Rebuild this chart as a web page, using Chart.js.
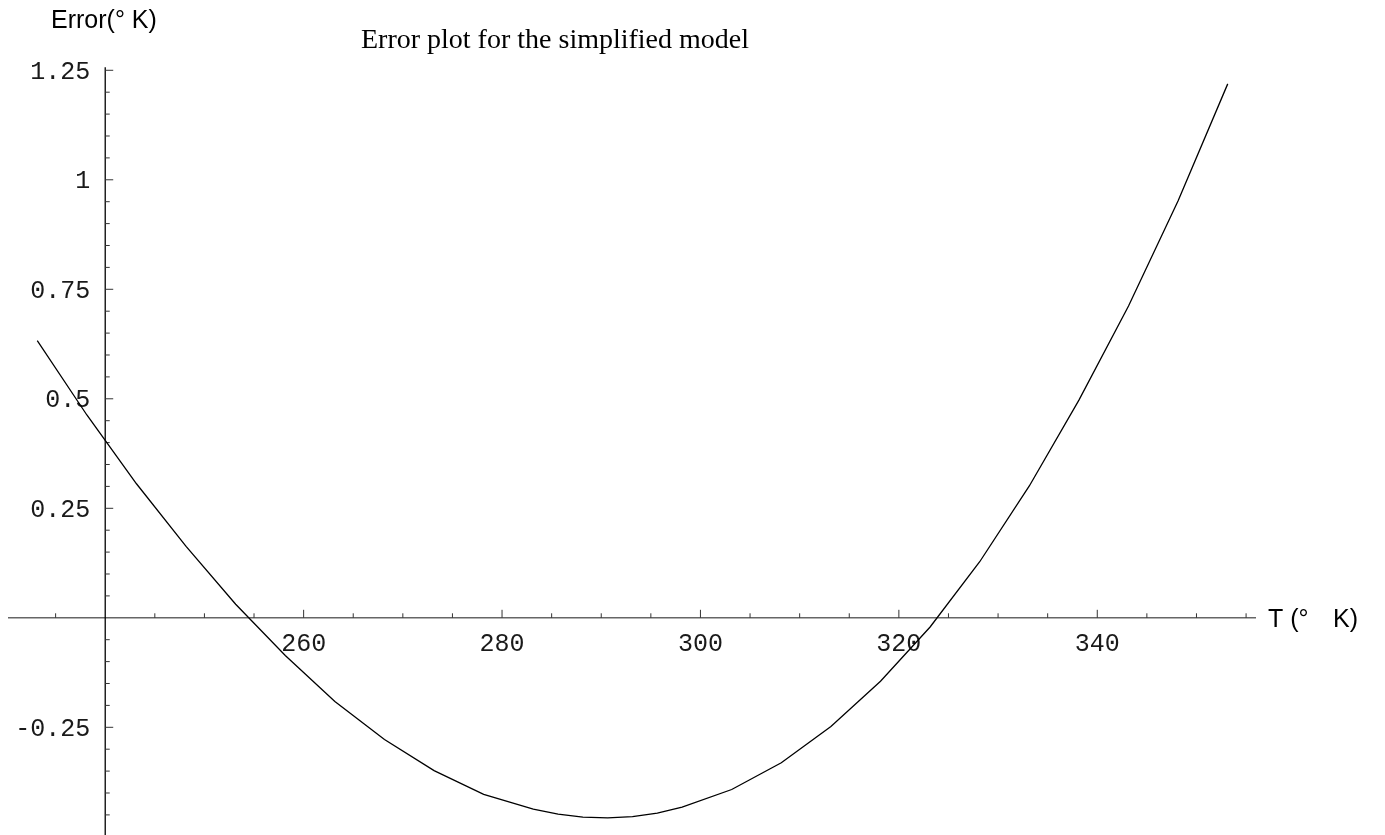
<!DOCTYPE html>
<html>
<head>
<meta charset="utf-8">
<script src="https://cdn.jsdelivr.net/npm/chart.js@4.4.1/dist/chart.umd.min.js"></script>
<style>
  html, body { margin: 0; padding: 0; background: #ffffff; }
  #wrap { width: 1385px; height: 835px; }
</style>
</head>
<body>
<div id="wrap"><canvas id="c" width="1385" height="835"></canvas></div>
<script>
// ---- data ----
const temperatures = [233.15, 238.15, 243.15, 248.15, 253.15, 258.15, 263.15, 268.15, 273.15, 278.15,
                      283.15, 285.65, 288.15, 290.65, 293.15, 295.65, 298.15, 303.15, 308.15, 313.15,
                      318.15, 323.15, 328.15, 333.15, 338.15, 343.15, 348.15, 353.15];
const errors = [0.633, 0.463, 0.306, 0.163, 0.031, -0.086, -0.191, -0.278, -0.349, -0.403,
                -0.437, -0.448, -0.455, -0.457, -0.454, -0.446, -0.432, -0.392, -0.331, -0.248,
                -0.145, -0.021, 0.128, 0.301, 0.497, 0.712, 0.952, 1.219];
const xMajorTicks = [260, 280, 300, 320, 340];
const xTickLabels = ['260', '280', '300', '320', '340'];
const xMinorTicks = [235, 245, 250, 255, 265, 270, 275, 285, 290, 295, 305, 310, 315, 325, 330, 335, 345, 350, 355];
const yMajorTicks = [-0.25, 0.25, 0.5, 0.75, 1, 1.25];
const yTickLabels = ['-0.25', '0.25', '0.5', '0.75', '1', '1.25'];
const yMinorTicks = [-0.45, -0.4, -0.35, -0.3, -0.2, -0.15, -0.1, -0.05, 0.05, 0.1, 0.15, 0.2,
                     0.3, 0.35, 0.4, 0.45, 0.55, 0.6, 0.65, 0.7, 0.8, 0.85, 0.9, 0.95,
                     1.05, 1.1, 1.15, 1.2];
const titleText = 'Error plot for the simplified model';
const yAxisTitle = 'Error(° K)';
const xAxisTitleParts = ['T (°', 'K)'];
const yAxisAt = 240;   // T where vertical axis crosses
const xAxisAt = 0;     // error where horizontal axis crosses

const points = temperatures.map((t, i) => ({ x: t, y: errors[i] }));

const axesPlugin = {
  id: 'mathAxes',
  beforeDatasetsDraw(chart) {
    const ctx = chart.ctx;
    const xs = chart.scales.x, ys = chart.scales.y;
    const area = chart.chartArea;
    const x0 = xs.getPixelForValue(yAxisAt);
    const y0 = ys.getPixelForValue(xAxisAt);
    ctx.save();
    // horizontal axis
    ctx.strokeStyle = '#666666';
    ctx.lineWidth = 1.6;
    ctx.beginPath();
    ctx.moveTo(area.left, y0);
    ctx.lineTo(area.right, y0);
    ctx.stroke();
    // vertical axis
    ctx.strokeStyle = '#000000';
    ctx.lineWidth = 1.3;
    ctx.beginPath();
    ctx.moveTo(x0, area.top - 2);
    ctx.lineTo(x0, chart.height);
    ctx.stroke();
    // x ticks
    ctx.strokeStyle = '#333333';
    ctx.lineWidth = 1;
    xMajorTicks.forEach(v => {
      const px = xs.getPixelForValue(v);
      ctx.beginPath(); ctx.moveTo(px, y0); ctx.lineTo(px, y0 - 8); ctx.stroke();
    });
    xMinorTicks.forEach(v => {
      const px = xs.getPixelForValue(v);
      ctx.beginPath(); ctx.moveTo(px, y0); ctx.lineTo(px, y0 - 4.5); ctx.stroke();
    });
    // y ticks
    yMajorTicks.forEach(v => {
      const py = ys.getPixelForValue(v);
      ctx.beginPath(); ctx.moveTo(x0, py); ctx.lineTo(x0 + 8, py); ctx.stroke();
    });
    yMinorTicks.forEach(v => {
      const py = ys.getPixelForValue(v);
      ctx.beginPath(); ctx.moveTo(x0, py); ctx.lineTo(x0 + 4.5, py); ctx.stroke();
    });
    // tick labels
    ctx.fillStyle = '#1a1a1a';
    ctx.font = '25px "Liberation Mono", "DejaVu Sans Mono", monospace';
    ctx.textBaseline = 'alphabetic';
    ctx.textAlign = 'center';
    xMajorTicks.forEach((v, i) => {
      ctx.fillText(xTickLabels[i], xs.getPixelForValue(v), y0 + 33);
    });
    ctx.textAlign = 'right';
    yMajorTicks.forEach((v, i) => {
      ctx.fillText(yTickLabels[i], x0 - 15, ys.getPixelForValue(v) + 8.5);
    });
    // axis titles
    ctx.fillStyle = '#000000';
    ctx.font = '25px "Liberation Sans", Arial, sans-serif';
    ctx.textAlign = 'left';
    ctx.fillText(yAxisTitle, 51, 28);
    ctx.fillText(xAxisTitleParts[0], 1268, y0 + 9);
    ctx.fillText(xAxisTitleParts[1], 1333, y0 + 9);
    // plot title
    ctx.font = '28px "Liberation Serif", "Times New Roman", serif';
    ctx.textAlign = 'center';
    ctx.fillText(titleText, 555, 48);
    ctx.restore();
  }
};

new Chart(document.getElementById('c'), {
  type: 'scatter',
  data: {
    datasets: [{
      data: points,
      showLine: true,
      borderColor: '#000000',
      borderWidth: 1.3,
      pointRadius: 0,
      tension: 0,
      fill: false
    }]
  },
  options: {
    responsive: false,
    animation: false,
    events: [],
    layout: { padding: { left: 8, right: 129, top: 69.2, bottom: 2.8 } },
    scales: {
      x: { type: 'linear', min: 230.2, max: 356, display: false },
      y: { type: 'linear', min: -0.4895, max: 1.2525, display: false }
    },
    plugins: { legend: { display: false }, tooltip: { enabled: false }, title: { display: false } }
  },
  plugins: [axesPlugin]
});
</script>
</body>
</html>
